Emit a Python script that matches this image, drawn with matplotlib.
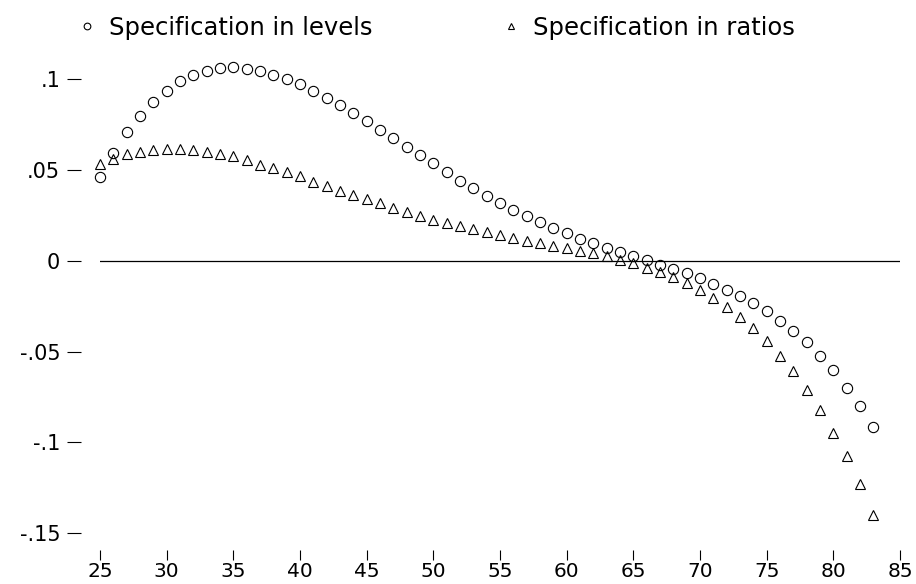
import matplotlib
matplotlib.use('Agg')
from matplotlib import pyplot as plt

# age profile, one point per year
age = list(range(25, 84))

levels = [0.0459, 0.0591, 0.0707, 0.0798, 0.0875, 0.0936, 0.0987, 0.1022, 0.1046, 0.1061,
          0.1064, 0.1055, 0.1042, 0.1024, 0.1002, 0.0973, 0.0936, 0.0896, 0.0857, 0.0813,
          0.0767, 0.0721, 0.0674, 0.0628, 0.0582, 0.0536, 0.0490, 0.0440, 0.0400, 0.0358,
          0.0318, 0.0281, 0.0244, 0.0211, 0.0180, 0.0152, 0.0119, 0.0097, 0.0070, 0.0046,
          0.0024, 0.0002, -0.0022, -0.0046, -0.0069, -0.0097, -0.0128, -0.0161, -0.0196, -0.0233,
          -0.0279, -0.0330, -0.0387, -0.0449, -0.0523, -0.0603, -0.0702, -0.0801, -0.0917]

ratios = [0.0533, 0.0560, 0.0587, 0.0597, 0.0611, 0.0615, 0.0615, 0.0611, 0.0600, 0.0587,
          0.0574, 0.0555, 0.0527, 0.0510, 0.0486, 0.0464, 0.0435, 0.0411, 0.0385, 0.0362,
          0.0338, 0.0315, 0.0288, 0.0266, 0.0248, 0.0226, 0.0207, 0.0189, 0.0174, 0.0156,
          0.0141, 0.0125, 0.0110, 0.0097, 0.0083, 0.0070, 0.0055, 0.0042, 0.0028, 0.0006,
          -0.0013, -0.0038, -0.0060, -0.0092, -0.0123, -0.0160, -0.0207, -0.0257, -0.0312, -0.0372,
          -0.0440, -0.0523, -0.0608, -0.0710, -0.0821, -0.0950, -0.1073, -0.1229, -0.1398]

xticks = [25, 30, 35, 40, 45, 50, 55, 60, 65, 70, 75, 80, 85]
yticks = [0.1, 0.05, 0, -0.05, -0.1, -0.15]
ytick_labels = ['.1', '.05', '0', '-.05', '-.1', '-.15']

plt.rcParams['font.family'] = ['DejaVu Sans']

fig = plt.figure(figsize=(9.16, 5.84), dpi=100)
W, H = 916, 584
ax = fig.add_axes([100 / W, (H - 533.3) / H, 800 / W, (533.3 - 79) / H])
ax.set_xlim(25, 85)
ax.set_ylim(-0.15, 0.1)

ax.axhline(0, color='black', lw=0.9)
l1, = ax.plot(age, levels, ls='none', marker='o', ms=7.4, mfc='none', mec='black',
              mew=0.8, clip_on=False)
l2, = ax.plot(age, ratios, ls='none', marker='^', ms=7.6, mfc='none', mec='black',
              mew=0.8, clip_on=False)

# stata-like axes: no lines, ticks set off from the plot region
for s in ['top', 'right']:
    ax.spines[s].set_visible(False)
ax.spines['left'].set_position(('outward', 13.7))
ax.spines['bottom'].set_position(('outward', 12))
for s in ['left', 'bottom']:
    ax.spines[s].set_color('none')

ax.set_xticks(xticks)
ax.set_xticklabels([str(t) for t in xticks])
ax.set_yticks(yticks)
ax.set_yticklabels(ytick_labels)
ax.tick_params(axis='x', length=7, width=0.8, pad=1.5, labelsize=14.5)
ax.tick_params(axis='y', length=10, width=0.8, pad=5, labelsize=15)

# legend, two entries on one row above the plot
leg_kw = dict(loc='center left', frameon=False, markerscale=0.65, handlelength=0.8,
              handletextpad=0.5, borderpad=0, borderaxespad=0, fontsize=17.5,
              bbox_transform=fig.transFigure)
leg1 = ax.legend([l1], ['Specification in levels'], bbox_to_anchor=(77 / W, 1 - 28 / H), **leg_kw)
ax.add_artist(leg1)
ax.legend([l2], ['Specification in ratios'], bbox_to_anchor=(501 / W, 1 - 28 / H), **leg_kw)

fig.savefig('out.png', dpi=100)
